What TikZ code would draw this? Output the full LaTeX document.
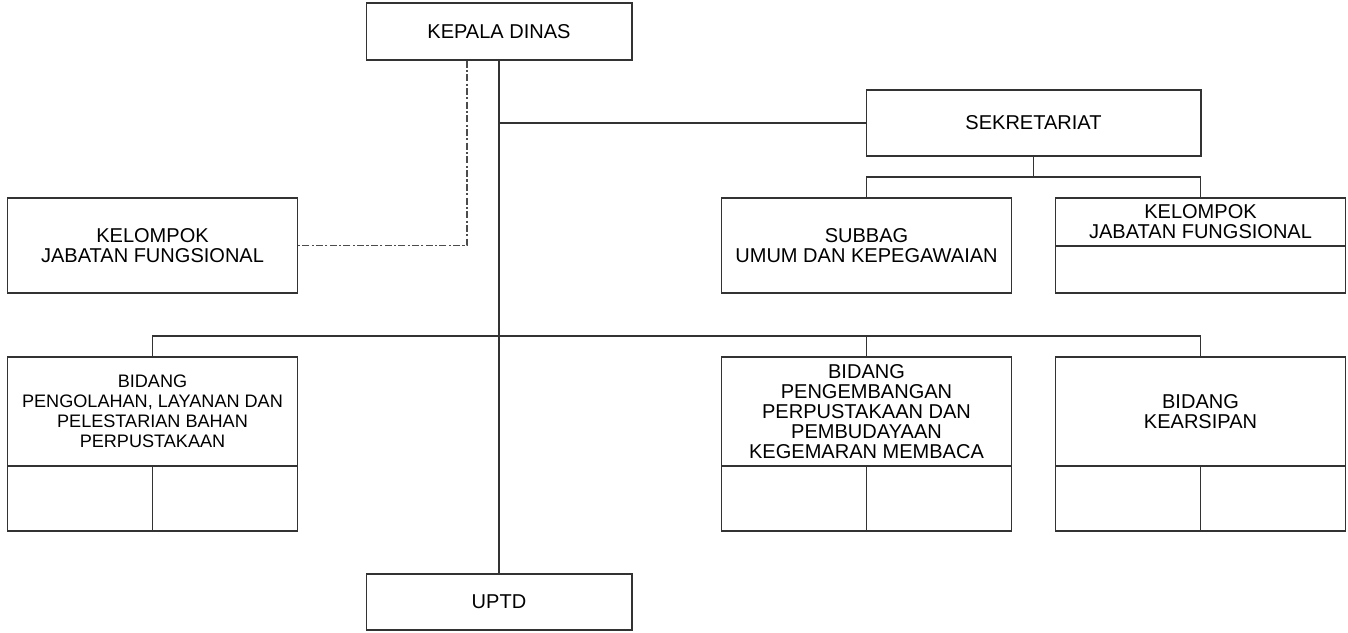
\documentclass[tikz,border=0pt]{standalone}
\usepackage{fontspec}
\setmainfont{Liberation Sans}
\usetikzlibrary{calc}

\begin{document}
\begin{tikzpicture}[
  x=0.02cm, y=-0.02cm,
  font=\fontsize{11.4}{11.4}\selectfont,
  line width=0.6pt,
  unit/.style={
    rectangle, draw=black!80, fill=white,
    minimum width=5.8cm, minimum height=1.9cm, align=center,
    inner sep=1pt, text=black
  },
  head/.style={
    unit, minimum width=5.32cm, minimum height=1.14cm
  },
  bidtop/.style={
    unit, minimum height=2.18cm
  },
  subcell/.style={
    unit, minimum width=2.9cm, minimum height=1.3cm
  },
  link/.style={draw=black!80},
  staffline/.style={draw=black!70, dash pattern=on 4pt off 1.3pt on 1.2pt off 1.3pt},
]
\useasboundingbox (0,0) rectangle (1348,632);

% Top level
\node[head] (kepala) at (499, 31.5) {KEPALA DINAS};
\node[unit, minimum width=6.7cm, minimum height=1.32cm] (sekr) at (1033.5, 123) {SEKRETARIAT};

% Secretariat row
\node[unit] (kjfL) at (152.5, 245.5) {KELOMPOK\\JABATAN FUNGSIONAL};
\node[unit] (subbag) at (866.5, 245.5) {SUBBAG\\UMUM DAN KEPEGAWAIAN};
\node[unit, minimum height=0.96cm] (kjfRa) at (1200.5, 222) {KELOMPOK\\JABATAN FUNGSIONAL};
\node[unit, minimum height=0.94cm] (kjfRb) at (1200.5, 269.5) {};

% Bidang row
\node[bidtop, font=\fontsize{10.3}{11.3}\selectfont] (bidA) at (152.5, 411.5) {BIDANG\\PENGOLAHAN, LAYANAN DAN\\PELESTARIAN BAHAN\\PERPUSTAKAAN};
\node[subcell] (bidA1) at (80, 498.5) {};
\node[subcell] (bidA2) at (225, 498.5) {};

\node[bidtop] (bidB) at (866.5, 411.5) {BIDANG\\PENGEMBANGAN\\PERPUSTAKAAN DAN\\PEMBUDAYAAN\\KEGEMARAN MEMBACA};
\node[subcell] (bidB1) at (794, 498.5) {};
\node[subcell] (bidB2) at (939, 498.5) {};

\node[bidtop] (bidC) at (1200.5, 411.5) {BIDANG\\KEARSIPAN};
\node[subcell] (bidC1) at (1128, 498.5) {};
\node[subcell] (bidC2) at (1273, 498.5) {};

% Bottom
\node[head, minimum height=1.12cm] (uptd) at (499, 602) {UPTD};

% Connectors
\coordinate (sbus) at (1033.5, 177);
\coordinate (bbus) at (499, 336);

\draw[link] (kepala.south) -- (uptd.north);
\draw[link] (sekr.west) -- (sekr.west -| kepala.south);
\draw[link] (sekr.south) -- (sbus);
\draw[link] (subbag.north) |- (sbus) -| (kjfRa.north);
\draw[link] (bidA.north) |- (bbus) -| (bidC.north);
\draw[link] (bidB.north) -- (bidB.north |- bbus);

% Functional staff line
\draw[staffline] ([xshift=-0.64cm]kepala.south) |- (kjfL.east);

\end{tikzpicture}
\end{document}
